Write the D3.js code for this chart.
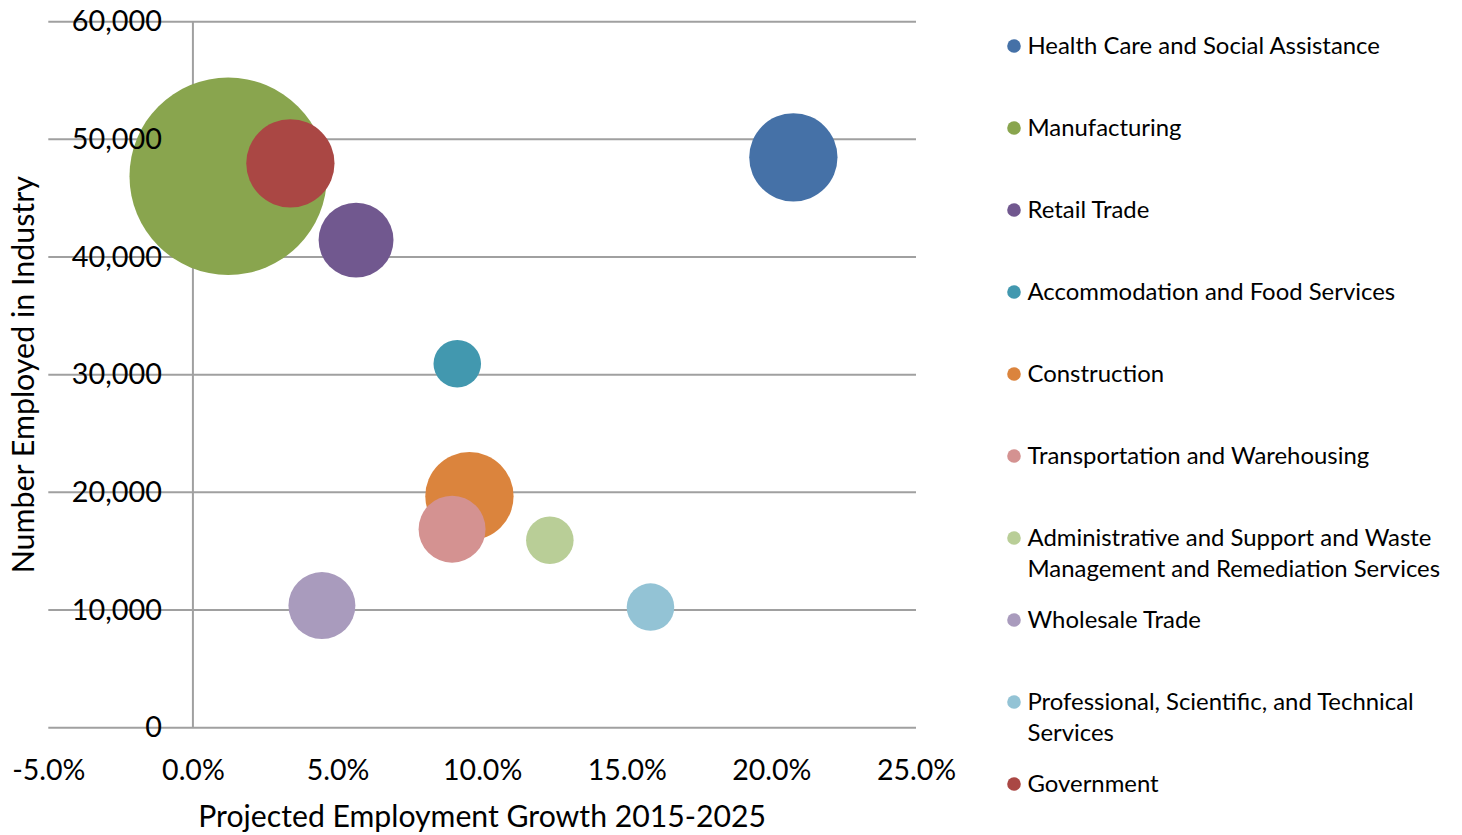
<!DOCTYPE html>
<html>
<head>
<meta charset="utf-8">
<script src="https://cdn.jsdelivr.net/npm/d3@7"></script>
<style>
  html, body { margin: 0; padding: 0; background: #fff; }
  svg { display: block; font-family: Lato, "Open Sans", sans-serif; }
</style>
</head>
<body>
<svg id="chart" width="1462" height="835"></svg>
<script>
// ---- data ----
const industries = [
  "Health Care and Social Assistance",
  "Manufacturing",
  "Retail Trade",
  "Accommodation and Food Services",
  "Construction",
  "Transportation and Warehousing",
  "Administrative and Support and Waste Management and Remediation Services",
  "Wholesale Trade",
  "Professional, Scientific, and Technical Services",
  "Government"
];
const legendLines = [
  ["Health Care and Social Assistance"],
  ["Manufacturing"],
  ["Retail Trade"],
  ["Accommodation and Food Services"],
  ["Construction"],
  ["Transportation and Warehousing"],
  ["Administrative and Support and Waste", "Management and Remediation Services"],
  ["Wholesale Trade"],
  ["Professional, Scientific, and Technical", "Services"],
  ["Government"]
];
const growthPct   = [20.76, 1.22, 5.64, 9.14, 9.56, 8.96, 12.34, 4.46, 15.82, 3.37];
const employed    = [48470, 46870, 41440, 30930, 19670, 16870, 15930, 10380, 10250, 47960];
const bubbleSize  = [20.0, 100.0, 14.4, 5.8, 20.0, 11.5, 5.8, 11.5, 5.8, 20.0];
const colors      = ["#4571a7", "#89a54e", "#71588f", "#4298af", "#db843d",
                     "#d49291", "#b9ce97", "#a99bbd", "#93c3d5", "#aa4744"];
const xTicks      = [-5, 0, 5, 10, 15, 20, 25];
const xTickLabels = ["-5.0%", "0.0%", "5.0%", "10.0%", "15.0%", "20.0%", "25.0%"];
const yTicks      = [0, 10000, 20000, 30000, 40000, 50000, 60000];
const yTickLabels = ["0", "10,000", "20,000", "30,000", "40,000", "50,000", "60,000"];
const xTitle = "Projected Employment Growth 2015-2025";
const yTitle = "Number Employed in Industry";

// ---- layout ----
const svg = d3.select("#chart");
const plot = { left: 48.3, right: 916, top: 21.7, bottom: 727.7 };
const x = d3.scaleLinear().domain([-5, 25]).range([plot.left, plot.right]);
const y = d3.scaleLinear().domain([0, 60000]).range([plot.bottom, plot.top]);
const r = d3.scaleSqrt().domain([0, d3.max(bubbleSize)]).range([0, 98.7]);
const gridColor = "#a0a0a0";

// gridlines
svg.append("g").selectAll("line").data(yTicks).join("line")
  .attr("x1", plot.left).attr("x2", plot.right)
  .attr("y1", d => y(d)).attr("y2", d => y(d))
  .attr("stroke", gridColor).attr("stroke-width", 2);

// vertical axis line at x = 0
svg.append("line")
  .attr("x1", x(0)).attr("x2", x(0))
  .attr("y1", plot.top).attr("y2", plot.bottom)
  .attr("stroke", gridColor).attr("stroke-width", 2);

// bubbles
const data = industries.map((name, i) => ({
  name, gx: growthPct[i], emp: employed[i], size: bubbleSize[i], color: colors[i]
}));
svg.append("g").selectAll("circle").data(data).join("circle")
  .attr("cx", d => x(d.gx))
  .attr("cy", d => y(d.emp))
  .attr("r", d => r(d.size))
  .attr("fill", d => d.color);

// y tick labels (drawn via axis generator, positioned relative to x=0 axis)
const yAxis = d3.axisLeft(y).tickValues(yTicks)
  .tickFormat((d, i) => yTickLabels[i]).tickSize(0).tickPadding(31);
const gy = svg.append("g").attr("transform", `translate(${x(0)},0)`).call(yAxis);
gy.select(".domain").remove();
gy.selectAll("text").attr("font-size", 28.8).attr("fill", "#000")
  .attr("font-family", "Lato, 'Open Sans', sans-serif");

// x tick labels
const xAxis = d3.axisBottom(x).tickValues(xTicks)
  .tickFormat((d, i) => xTickLabels[i]).tickSize(0).tickPadding(0);
const gx = svg.append("g").attr("transform", `translate(0,${plot.bottom})`).call(xAxis);
gx.select(".domain").remove();
gx.selectAll("text").attr("font-size", 28.5).attr("fill", "#000")
  .attr("font-family", "Lato, 'Open Sans', sans-serif")
  .attr("dy", null).attr("y", 52);

// axis titles
svg.append("text")
  .attr("x", (plot.left + plot.right) / 2).attr("y", 827)
  .attr("text-anchor", "middle").attr("font-size", 30.2).attr("fill", "#000")
  .text(xTitle);
svg.append("text")
  .attr("transform", `translate(34,${(plot.top + plot.bottom) / 2}) rotate(-90)`)
  .attr("text-anchor", "middle").attr("font-size", 30.4).attr("fill", "#000")
  .text(yTitle);

// legend
const legend = svg.append("g");
const items = legend.selectAll("g").data(data).join("g")
  .attr("transform", (d, i) => `translate(1014,${46 + i * 82})`);
items.append("circle").attr("r", 6.8).attr("fill", d => d.color);
items.append("text")
  .attr("x", 13.5).attr("y", 0)
  .attr("font-size", 23.9).attr("fill", "#000")
  .selectAll("tspan").data((d, i) => legendLines[i]).join("tspan")
  .attr("x", 13.5).attr("dy", (d, j) => j === 0 ? "0.35em" : "31px")
  .text(d => d);
</script>
</body>
</html>
